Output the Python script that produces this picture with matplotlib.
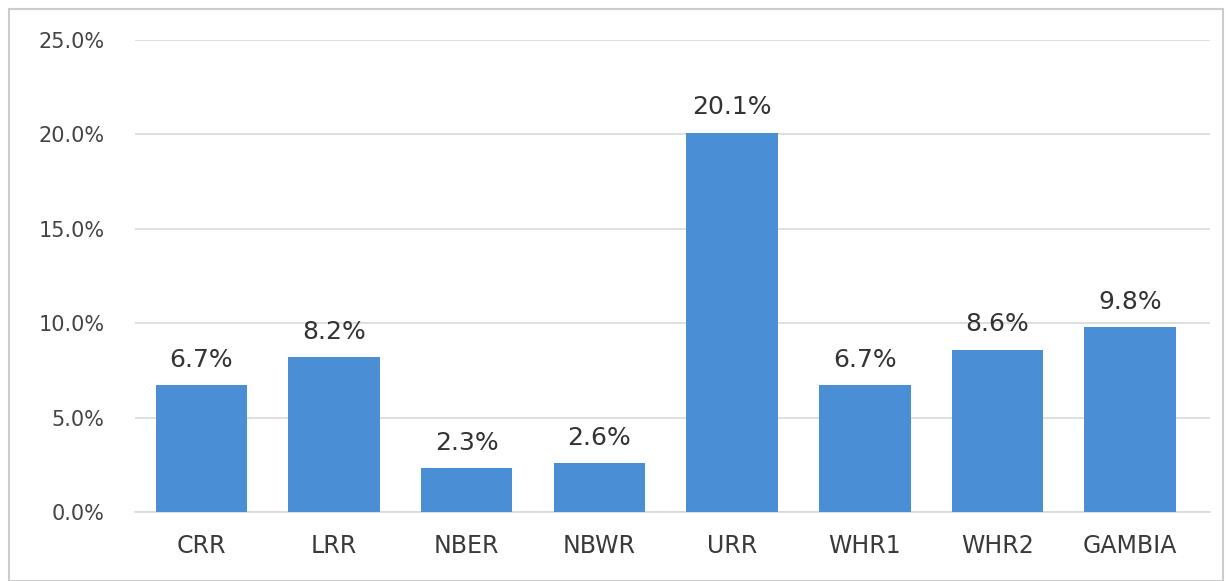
import matplotlib.pyplot as plt
from matplotlib.patches import Rectangle

regions = ['CRR', 'LRR', 'NBER', 'NBWR', 'URR', 'WHR1', 'WHR2', 'GAMBIA']
shares = [6.7, 8.2, 2.3, 2.6, 20.1, 6.7, 8.6, 9.8]
yticks = [0, 5, 10, 15, 20, 25]

plt.rcParams['font.family'] = ['DejaVu Sans']

fig = plt.figure(figsize=(12.27, 5.81), dpi=100)
ax = fig.add_axes([0.110, 0.119, 0.876, 0.812])

x = range(len(regions))
ax.bar(x, shares, width=0.69, color='#4A8FD6', zorder=3)
for xi, v in zip(x, shares):
    ax.text(xi, v + 0.7, f'{v:.1f}%', ha='center', va='bottom',
            fontsize=18, color='#333333')

ax.set_xlim(-0.5, 7.6)
ax.set_ylim(0, 25)
ax.set_yticks(yticks)
ax.set_yticklabels([f'{t:.1f}%' for t in yticks], fontsize=15, color='#444444')
ax.set_xticks(list(x))
ax.set_xticklabels(regions, fontsize=17, color='#3a3a3a')
ax.yaxis.grid(True, color='#d9d9d9', linewidth=1.2, zorder=0)
ax.tick_params(axis='y', length=0, pad=22)
ax.tick_params(axis='x', length=0, pad=16)
for s in ['top', 'right', 'left']:
    ax.spines[s].set_visible(False)
ax.spines['bottom'].set_color('#d9d9d9')
ax.spines['bottom'].set_linewidth(1.2)

fig.patches.append(Rectangle((0.007, 0.0), 0.99, 0.985, transform=fig.transFigure,
                             fill=False, edgecolor='#cccccc', linewidth=1.5))

fig.savefig('out.png', dpi=100)
